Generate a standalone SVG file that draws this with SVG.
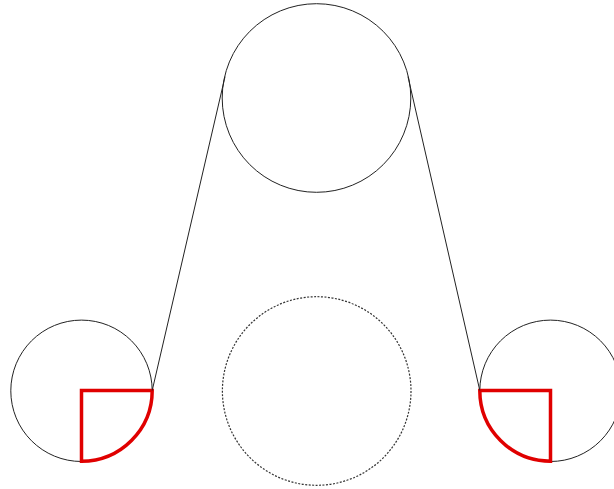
<svg xmlns="http://www.w3.org/2000/svg" width="614" height="489" viewBox="0 0 614 489">
<style>
.c{fill:none;stroke:#222;stroke-width:1}
.d{fill:none;stroke:#333;stroke-width:1.2;stroke-dasharray:2 1.5}
.r{fill:none;stroke:#e00000;stroke-width:3.5;stroke-linejoin:miter}
.l{fill:none;stroke:#222;stroke-width:1}
</style>
<rect width="614" height="489" fill="#fff"/>
<g id="top"><circle class="c" cx="316.5" cy="98" r="94.3"/></g>
<g id="middle"><circle class="d" cx="316.7" cy="391" r="94.3"/></g>
<g id="left"><circle class="c" cx="81.5" cy="390.8" r="70.7"/>
<path class="r" d="M81.5,390.5 H152.2 A70.7,70.7 0 0 1 81.5,461.2 Z"/></g>
<g id="right"><circle class="c" cx="550.5" cy="390.8" r="70.7"/>
<path class="r" d="M550.5,390.5 H479.8 A70.7,70.7 0 0 0 550.5,461.2 Z"/></g>
<g id="connectors">
<line class="l" x1="152.2" y1="390.5" x2="225" y2="76.7"/>
<line class="l" x1="479.8" y1="390.5" x2="408" y2="76.7"/>
</g>
</svg>
